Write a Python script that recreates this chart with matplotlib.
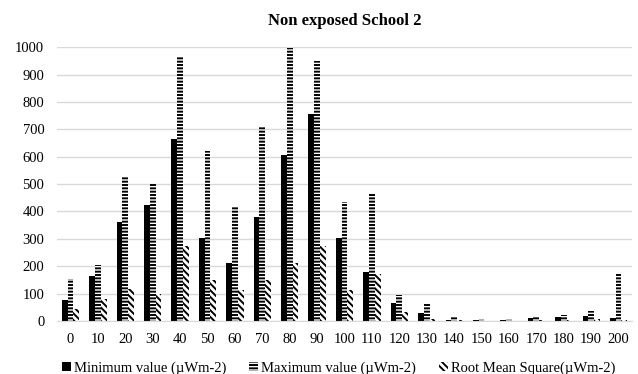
import numpy as np
import matplotlib.pyplot as plt

plt.rcParams['font.family'] = ['Liberation Serif', 'DejaVu Serif']
plt.rcParams['hatch.linewidth'] = 1.4

categories = ['0', '10', '20', '30', '40', '50', '60', '70', '80', '90', '100',
              '110', '120', '130', '140', '150', '160', '170', '180', '190', '200']
min_vals = [78, 163, 363, 422, 665, 303, 213, 380, 605, 757, 302,
            180, 67, 29, 4, 5, 2, 9, 14, 17, 9]
max_vals = [152, 203, 527, 500, 963, 620, 420, 708, 995, 950, 435,
            468, 96, 66, 19, 6, 6, 19, 21, 36, 170]
rms_vals = [45, 80, 115, 100, 272, 148, 113, 148, 210, 272, 113,
            171, 33, 6, 2, 1, 1, 2, 4, 8, 2]

x = np.arange(len(categories))
w = 0.21

fig = plt.figure(figsize=(6.38, 3.74), dpi=100)
ax = fig.add_axes([0.089, 0.142, 0.902, 0.732])

ax.bar(x - w, min_vals, w, color='black', linewidth=0,
       label='Minimum value (µWm-2)')
ax.bar(x, max_vals, w, color='white', edgecolor='black', hatch='-----',
       linewidth=0, label='Maximum value (µWm-2)')
ax.bar(x + w, rms_vals, w, color='white', edgecolor='black', hatch='\\\\\\\\\\',
       linewidth=0, label='Root Mean Square(µWm-2)')

ax.set_xlim(-0.5, len(categories) - 0.5)
ax.set_ylim(0, 1000)
ax.set_yticks(range(0, 1001, 100))
ax.set_xticks(x)
ax.set_xticklabels(categories)
ax.yaxis.grid(True, color='#d9d9d9', linewidth=1)
ax.set_axisbelow(True)
for s in ['top', 'right', 'left']:
    ax.spines[s].set_visible(False)
ax.spines['bottom'].set_color('#d9d9d9')
ax.tick_params(axis='x', length=0, labelsize=10.5, pad=9)
ax.tick_params(axis='y', length=0, labelsize=10.5, pad=9)

ax.set_title('Non exposed School 2', fontsize=12, fontweight='bold', pad=16)
ax.legend(loc='upper center', bbox_to_anchor=(0.49, -0.1), ncol=3,
          frameon=False, fontsize=10.5, handlelength=0.6, handleheight=0.6,
          columnspacing=1.6, handletextpad=0.2)

fig.savefig('out.png', dpi=100)
